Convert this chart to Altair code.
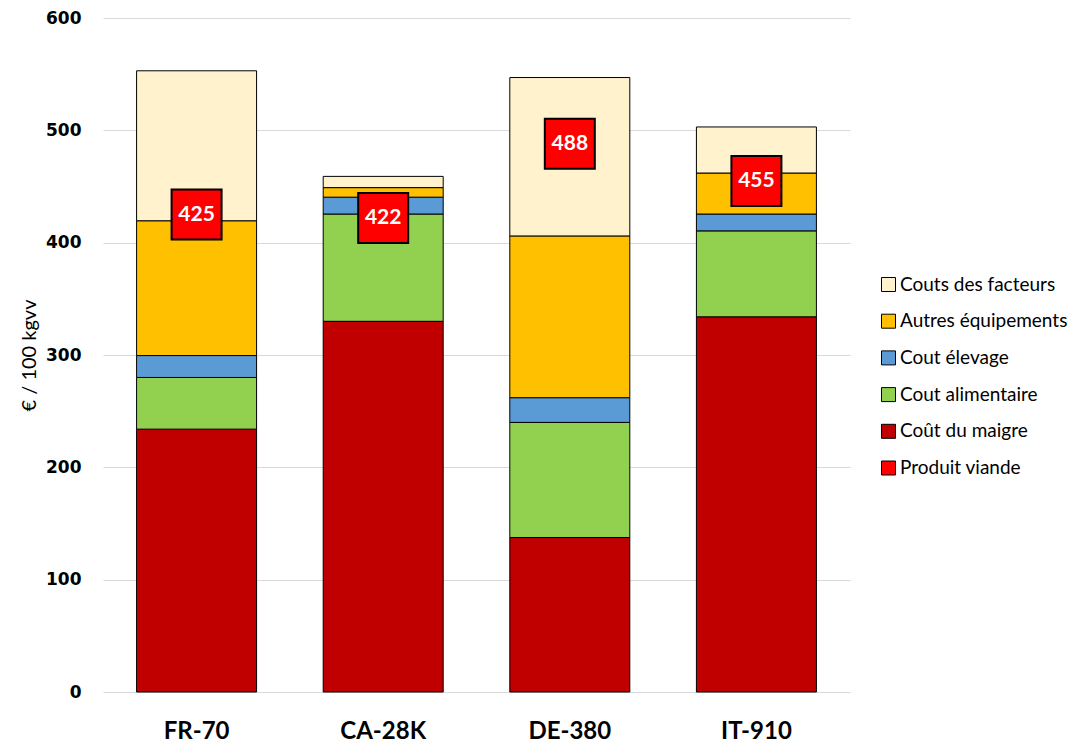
import altair as alt
import pandas as pd

farms = ["FR-70", "CA-28K", "DE-380", "IT-910"]
cost_names = ["Coût du maigre", "Cout alimentaire", "Cout élevage", "Autres équipements", "Couts des facteurs"]
maigre = [234, 330, 137.5, 334]
alimentaire = [46, 95.5, 102.5, 76.5]
elevage = [19.5, 15, 22, 15]
autres = [120, 8.5, 144, 36.5]
facteurs = [133.5, 10, 141, 41]
produit = [425, 422, 488, 455]

legend_order = ["Couts des facteurs", "Autres équipements", "Cout élevage",
                "Cout alimentaire", "Coût du maigre", "Produit viande"]
legend_colors = ["#FFF2CC", "#FFC000", "#5B9BD5", "#92D050", "#C00000", "#FF0000"]

rows = []
series = [maigre, alimentaire, elevage, autres, facteurs]
for i, f in enumerate(farms):
    for k, name in enumerate(cost_names):
        rows.append({"farm": f, "cat": name, "value": series[k][i], "ord": k})
bars_df = pd.DataFrame(rows)
prod_df = pd.DataFrame({"farm": farms, "value": produit, "cat": ["Produit viande"] * 4})

FONT = "Lato"

color = alt.Color(
    "cat:N",
    scale=alt.Scale(domain=legend_order, range=legend_colors),
    legend=alt.Legend(
        title=None, orient="none", legendX=776, legendY=257,
        symbolType="square", symbolSize=196, symbolStrokeColor="black",
        symbolStrokeWidth=1, symbolOpacity=1, labelFontSize=19, labelFont=FONT,
        labelColor="black", rowPadding=16.7, labelOffset=2, labelLimit=300,
    ),
)

x = alt.X(
    "farm:N", sort=farms, title=None,
    scale=alt.Scale(paddingInner=0.357, paddingOuter=0.18),
    axis=alt.Axis(labelAngle=0, ticks=False, domain=False, labelFont=FONT,
                  labelFontSize=24, labelFontWeight="bold", labelColor="black",
                  labelPadding=27),
)

bars = alt.Chart(bars_df).mark_bar(stroke="black", strokeWidth=1).encode(
    x=x,
    y=alt.Y(
        "sum(value):Q", title="€ / 100 kgvv",
        scale=alt.Scale(domain=[0, 600], nice=False),
        axis=alt.Axis(values=[0, 100, 200, 300, 400, 500, 600], ticks=False,
                      domain=False, gridColor="#D9D9D9", labelFont="DejaVu Sans",
                      labelFontSize=17, labelFontWeight="bold", labelColor="black",
                      labelPadding=22, titleFont=FONT, titleFontSize=20,
                      titleFontWeight="normal", titleColor="black", titleX=-64),
    ),
    color=color,
    order=alt.Order("ord:Q", sort="ascending"),
)

squares = alt.Chart(prod_df).mark_square(
    size=2500, stroke="black", strokeWidth=2, opacity=1, filled=True
).encode(
    x=alt.X("farm:N", sort=farms),
    y=alt.Y("value:Q"),
    color=color,
)

texts = alt.Chart(prod_df).mark_text(
    color="white", font=FONT, fontSize=21, fontWeight="bold"
).encode(
    x=alt.X("farm:N", sort=farms),
    y=alt.Y("value:Q"),
    text=alt.Text("value:Q"),
)

chart = alt.layer(bars, squares, texts).properties(
    width=747, height=674,
    padding={"top": 1, "left": 11, "right": 0, "bottom": 0},
    background="white",
).configure_view(stroke=None)

chart.save("out.html", embed_options={"renderer": "svg", "actions": False})
